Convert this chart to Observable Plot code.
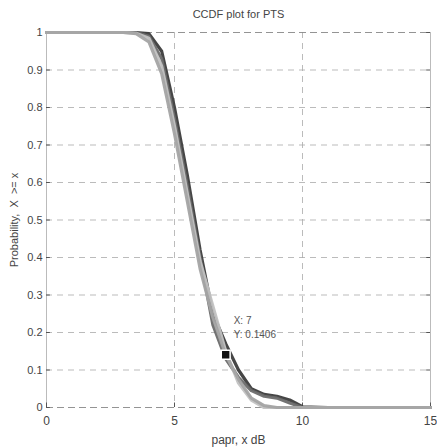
<!DOCTYPE html>
<html><head><meta charset="utf-8">
<script src="https://cdn.jsdelivr.net/npm/d3@7"></script>
<script src="https://cdn.jsdelivr.net/npm/@observablehq/plot@0.6"></script>
<style>
body{margin:0;background:#fff;}
#c{position:relative;width:437px;}
</style></head>
<body><div id="c"></div>
<script>
const xs = [0,1,2,3,3.5,4,4.5,5,5.5,6,6.5,7,7.5,8,8.5,9,9.5,10,11,12,13,14,15];
const darkY   = [1,1,1,1,1,0.997,0.95,0.80,0.62,0.42,0.25,0.17,0.10,0.05,0.035,0.03,0.02,0.002,0,0,0,0,0];
const midY    = [1,1,1,1,1,0.99,0.93,0.77,0.59,0.40,0.22,0.13,0.08,0.045,0.03,0.025,0.012,0,0,0,0,0,0];
const lightY  = [1,1,1,1,0.997,0.975,0.89,0.73,0.55,0.37,0.24,0.1406,0.075,0.025,0.005,0,0,0,0,0,0,0,0];
const silverY = [1,1,1,1,0.998,0.985,0.91,0.75,0.57,0.39,0.27,0.15,0.065,0.02,0,0,0,0,0,0,0,0,0];
const seriesNames = ["dark","mid","silver","light"];
const seriesVals = [darkY, midY, silverY, lightY];
const seriesColors = ["#3c3c3c","#6c6c6c","#c2c2c2","#a4a4a4"];
const xTicks = [0,5,10,15];
const yTicks = [0,0.1,0.2,0.3,0.4,0.5,0.6,0.7,0.8,0.9,1];
const tipX = 7, tipY = 0.1406;

const rows = [];
seriesNames.forEach((s,i)=>xs.forEach((x,j)=>rows.push({s, x, y: seriesVals[i][j]})));

const font = "Liberation Sans, Arial, sans-serif";
const chart = Plot.plot({
  width: 437, height: 447,
  marginLeft: 46, marginRight: 7, marginTop: 32, marginBottom: 40,
  style: {fontFamily: font, fontSize: "11px", color: "#444", background: "#fff"},
  x: {domain: [0,15]},
  y: {domain: [0,1]},
  color: {domain: seriesNames, range: seriesColors},
  marks: [
    Plot.ruleX(xTicks.slice(1,-1), {stroke: "#aaa", strokeDasharray: "6,5", strokeWidth: 0.8}),
    Plot.ruleY(yTicks.slice(1,-1), {stroke: "#aaa", strokeDasharray: "6,5", strokeWidth: 0.8}),
    Plot.ruleY([0,1], {stroke: "#888", strokeDasharray: "7,4", strokeWidth: 0.9}),
    Plot.ruleX([0,15], {stroke: "#aaa", strokeWidth: 0.8}),
    Plot.ruleY(yTicks, {x1: 0, x2: 0.15, stroke: "#555"}),
    Plot.ruleY(yTicks, {x1: 14.85, x2: 15, stroke: "#555"}),
    Plot.ruleX(xTicks, {y1: 0, y2: 0.012, stroke: "#555"}),
    Plot.line(rows, {x: "x", y: "y", z: "s", stroke: "s", strokeWidth: 3.2, strokeOpacity: 0.95}),
    Plot.dot([{x: tipX, y: tipY}], {x: "x", y: "y", symbol: "square", r: 5, fill: "#111", stroke: "#fff", strokeWidth: 1.5}),
    Plot.text([`X: ${tipX}`], {x: tipX, y: tipY, dx: 8, dy: -34, text: d => d, textAnchor: "start", fill: "#555", fontSize: 10}),
    Plot.text([`Y: ${tipY}`], {x: tipX, y: tipY, dx: 8, dy: -20, text: d => d, textAnchor: "start", fill: "#555", fontSize: 10}),
    Plot.axisX(xTicks, {tickSize: 0, tickPadding: 9, fontSize: 12, fill: "#444", label: "papr, x dB", labelAnchor: "center", labelArrow: "none", labelOffset: 36}),
    Plot.axisY(yTicks, {tickSize: 0, tickPadding: 4, fontSize: 11, fill: "#444", tickFormat: d => String(d), label: "Probability,  X  >= x", labelAnchor: "center", labelArrow: "none", labelOffset: 36}),
    Plot.text(["CCDF plot for PTS"], {frameAnchor: "top", dy: -22, text: d => d, fontSize: 11, fill: "#444"})
  ]
});
document.getElementById("c").appendChild(chart);
</script></body></html>
